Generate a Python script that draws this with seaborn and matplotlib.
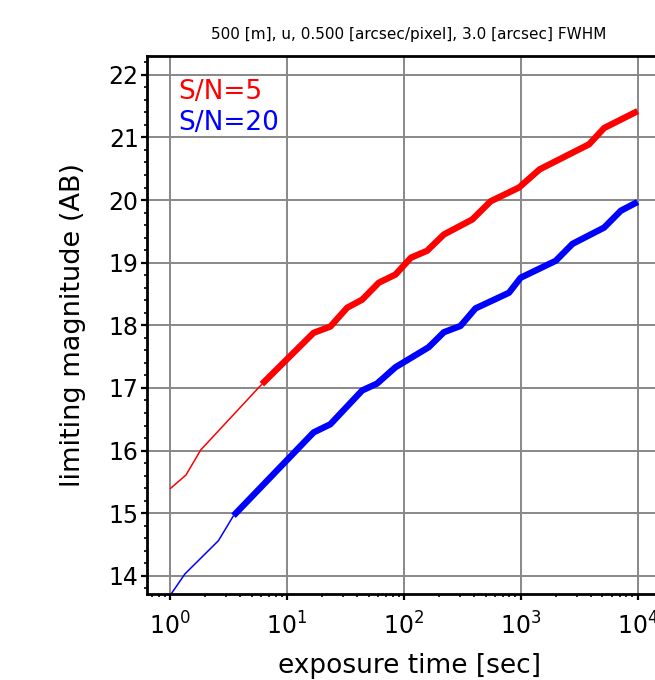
import numpy as np
import pandas as pd
import matplotlib
matplotlib.use("Agg")
import matplotlib.pyplot as plt
import seaborn as sns
from matplotlib.ticker import MultipleLocator, LogLocator

sns.set_style("ticks")
plt.rcParams['font.family'] = ['DejaVu Sans']
plt.rcParams['text.color'] = 'black'
plt.rcParams['axes.labelcolor'] = 'black'
plt.rcParams['xtick.color'] = 'black'
plt.rcParams['ytick.color'] = 'black'

# S/N = 5 (red)
red_thin_t = [1.0, 1.37, 1.83, 6.1]
red_thin_m = [15.39, 15.61, 16.01, 17.06]
red_thick_t = [6.1, 16.9, 23.5, 32.7, 44, 61, 84.7, 115, 158, 220, 385, 552, 966,
               1450, 3840, 5166, 10000]
red_thick_m = [17.06, 17.88, 17.98, 18.28, 18.41, 18.68, 18.81, 19.08, 19.19, 19.45,
               19.69, 19.98, 20.20, 20.49, 20.89, 21.15, 21.42]

# S/N = 20 (blue)
blue_thin_t = [1.03, 1.34, 2.59, 3.49]
blue_thin_m = [13.72, 14.03, 14.56, 14.96]
blue_thick_t = [3.49, 16.9, 23.5, 44, 59, 84.7, 163, 220, 305, 410, 793, 998, 1991,
                2767, 5160, 7180, 10000]
blue_thick_m = [14.96, 16.29, 16.42, 16.96, 17.07, 17.33, 17.65, 17.89, 17.99, 18.27,
                18.52, 18.76, 19.03, 19.30, 19.56, 19.83, 19.97]

title = "500 [m], u, 0.500 [arcsec/pixel], 3.0 [arcsec] FWHM"
labels = ["S/N=5", "S/N=20"]

fig = plt.figure(figsize=(6.55, 6.8), dpi=100)
ax = fig.add_axes([147/655, 86/680, 524/655, 538/680])

def seg(t, m, color, lw):
    df = pd.DataFrame({"t": t, "m": m})
    sns.lineplot(data=df, x="t", y="m", ax=ax, color=color, linewidth=lw,
                 sort=False, estimator=None, solid_capstyle="butt")

seg(red_thin_t, red_thin_m, "red", 1.1)
seg(red_thick_t, red_thick_m, "red", 4.6)
seg(blue_thin_t, blue_thin_m, "blue", 1.1)
seg(blue_thick_t, blue_thick_m, "blue", 4.6)

ax.set_xscale("log")
ax.set_xlim(10**-0.197, 10**4.285)
ax.set_ylim(13.71, 22.3)
ax.yaxis.set_major_locator(MultipleLocator(1))
ax.yaxis.set_minor_locator(MultipleLocator(0.2))
ax.xaxis.set_major_locator(LogLocator(base=10, numticks=10))
ax.xaxis.set_minor_locator(LogLocator(base=10, subs=np.arange(2, 10), numticks=20))
ax.grid(True, which="major", color="#888888", linewidth=1.4)
ax.set_axisbelow(True)
for s in ax.spines.values():
    s.set_linewidth(2)
    s.set_color("black")
ax.tick_params(which="major", length=4, width=1.6, labelsize=17, direction="out", pad=3)
ax.tick_params(which="minor", length=2.5, width=1.2, direction="out")
ax.tick_params(axis="y", which="major", pad=2)
ax.tick_params(axis="x", which="major", pad=9)
ax.set_xlabel("exposure time [sec]", fontsize=19, labelpad=10)
ax.set_ylabel("limiting magnitude (AB)", fontsize=19.5, labelpad=16)
ax.set_title(title, fontsize=11, pad=12)

ax.text(0.06, 0.933, labels[0], color="red", fontsize=19, transform=ax.transAxes,
        va="center", ha="left")
ax.text(0.06, 0.875, labels[1], color="blue", fontsize=19, transform=ax.transAxes,
        va="center", ha="left")

fig.savefig("out.png", dpi=100)
